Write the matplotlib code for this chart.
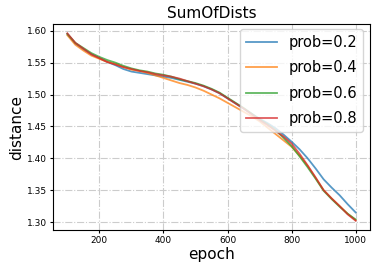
import matplotlib
matplotlib.use("Agg")
import matplotlib.pyplot as plt

epochs = list(range(100, 1001, 25))
prob_02 = [1.595, 1.580, 1.571, 1.563, 1.557, 1.551, 1.546, 1.540, 1.536, 1.534, 1.532, 1.530, 1.528,
           1.526, 1.523, 1.520, 1.517, 1.513, 1.508, 1.502, 1.494, 1.486, 1.478, 1.470, 1.462, 1.455,
           1.447, 1.437, 1.426, 1.414, 1.400, 1.384, 1.367, 1.354, 1.342, 1.328, 1.315]
prob_04 = [1.593, 1.578, 1.569, 1.561, 1.556, 1.551, 1.548, 1.543, 1.539, 1.537, 1.534, 1.530, 1.526,
           1.522, 1.518, 1.515, 1.511, 1.506, 1.500, 1.494, 1.487, 1.480, 1.473, 1.466, 1.458, 1.448,
           1.438, 1.428, 1.418, 1.404, 1.388, 1.369, 1.350, 1.337, 1.325, 1.313, 1.303]
prob_06 = [1.595, 1.581, 1.573, 1.565, 1.559, 1.554, 1.550, 1.545, 1.541, 1.538, 1.536, 1.533, 1.531,
           1.528, 1.524, 1.521, 1.518, 1.514, 1.509, 1.503, 1.495, 1.487, 1.479, 1.470, 1.461, 1.453,
           1.444, 1.432, 1.419, 1.403, 1.386, 1.368, 1.349, 1.336, 1.324, 1.313, 1.304]
prob_08 = [1.596, 1.581, 1.572, 1.563, 1.557, 1.551, 1.547, 1.543, 1.540, 1.537, 1.535, 1.532, 1.530,
           1.528, 1.525, 1.521, 1.517, 1.513, 1.508, 1.502, 1.494, 1.486, 1.478, 1.469, 1.460, 1.452,
           1.443, 1.434, 1.423, 1.407, 1.389, 1.370, 1.350, 1.337, 1.325, 1.312, 1.302]
labels = ["prob=0.2", "prob=0.4", "prob=0.6", "prob=0.8"]
colors = ["#1f77b4", "#ff7f0e", "#2ca02c", "#d62728"]

fig = plt.figure(figsize=(3.78, 2.72), dpi=100)
ax = fig.add_axes([0.140, 0.154, 0.839, 0.758])
for ys, lab, c in zip([prob_02, prob_04, prob_06, prob_08], labels, colors):
    ax.plot(epochs, ys, color=c, lw=1.3, alpha=0.75, label=lab)

ax.set_title("SumOfDists", fontsize=11, pad=4)
ax.set_xlabel("epoch", fontsize=11, labelpad=1)
ax.set_ylabel("distance", fontsize=11, labelpad=2)
ax.tick_params(labelsize=6.5, length=2.5, pad=2)
ax.set_xticks([200, 400, 600, 800, 1000])
ax.set_yticks([1.30, 1.35, 1.40, 1.45, 1.50, 1.55, 1.60])
ax.grid(True, color="#cccccc", linestyle="-.", linewidth=0.8)
ax.legend(loc="upper right", fontsize=10.5, framealpha=0.8, handlelength=2.1,
          bbox_to_anchor=(0.978, 0.975), borderaxespad=0.0, labelspacing=0.72)
fig.savefig("out.png", dpi=100)
